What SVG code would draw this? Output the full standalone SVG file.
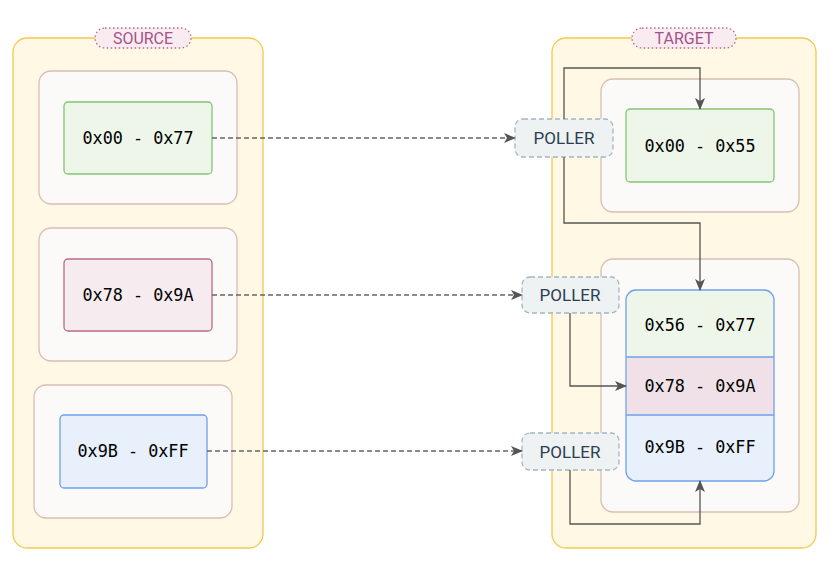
<svg xmlns="http://www.w3.org/2000/svg" width="838" height="580" viewBox="0 0 838 580">
<style>
.cont{fill:#fff8e5;stroke:#f2c94c;stroke-width:1.3}
.pill{fill:#f8ecf1;stroke:#c0608a;stroke-width:1.3;stroke-dasharray:1.5 2.5}
.pt{font-family:Roboto,"Liberation Sans",sans-serif;font-size:16px;fill:#a5528a;text-anchor:middle;dominant-baseline:central}
.inner{fill:#fbfaf8;stroke:#d8bfb2;stroke-width:1.3}
.g{fill:#eef6ea;stroke:#84c474;stroke-width:1.3}
.p{fill:#f6ecf0;stroke:#b86b8c;stroke-width:1.3}
.b{fill:#e8f0fb;stroke:#6ea1ea;stroke-width:1.3}
.r2{fill:#efe1e7}
.mono{font-family:"DejaVu Sans Mono","Liberation Mono",monospace;font-size:16.8px;fill:#000;text-anchor:middle;dominant-baseline:central}
.poll{fill:#eef2f3;stroke:#a3b6c4;stroke-width:1.3;stroke-dasharray:5 3}
.plt{font-family:Roboto,"Liberation Sans",sans-serif;font-size:17px;fill:#2c3e50;text-anchor:middle;dominant-baseline:central}
.dash{fill:none;stroke:#666;stroke-width:1.3;stroke-dasharray:5 3}
.solid{fill:none;stroke:#555;stroke-width:1.3}
</style>
<defs>
<marker id="arr" viewBox="0 0 12 10" refX="11" refY="5" markerWidth="12" markerHeight="10" markerUnits="userSpaceOnUse" orient="auto">
<path d="M0,0 L12,5 L0,10 L3,5 Z" fill="#555"/>
</marker>
</defs>
<g id="source">
<rect class="cont" x="13" y="38" width="250" height="510" rx="14"/>
<rect class="pill" x="95" y="28" width="96" height="20" rx="10"/>
<text class="pt" x="143" y="38">SOURCE</text>
</g>
<g id="target">
<rect class="cont" x="552" y="38" width="264" height="510" rx="14"/>
<rect class="pill" x="632" y="28" width="104" height="20" rx="10"/>
<text class="pt" x="684" y="38">TARGET</text>
</g>
<g id="src-box-1"><rect class="inner" x="39" y="71" width="198" height="133" rx="12"/></g>
<g id="src-box-2"><rect class="inner" x="39" y="228" width="198" height="133" rx="12"/></g>
<g id="src-box-3"><rect class="inner" x="34" y="385" width="198" height="133" rx="12"/></g>
<g id="tgt-box-1"><rect class="inner" x="601" y="79" width="198" height="133" rx="12"/></g>
<g id="tgt-box-2"><rect class="inner" x="601" y="259" width="198" height="253" rx="12"/></g>
<g id="src-00-77"><rect class="g" x="64" y="102" width="148" height="72" rx="4"/><text class="mono" x="138" y="138">0x00 - 0x77</text></g>
<g id="src-78-9A"><rect class="p" x="64" y="259" width="148" height="72" rx="4"/><text class="mono" x="138" y="295">0x78 - 0x9A</text></g>
<g id="src-9B-FF"><rect class="b" x="60" y="415" width="147" height="73" rx="4"/><text class="mono" x="133" y="451">0x9B - 0xFF</text></g>
<g id="tgt-00-55"><rect class="g" x="626" y="109" width="148" height="73" rx="4"/><text class="mono" x="700" y="146">0x00 - 0x55</text></g>
<g id="tgt-stack">
<clipPath id="sc"><rect x="626" y="290" width="148" height="191" rx="10"/></clipPath>
<g clip-path="url(#sc)">
<rect x="626" y="290" width="148" height="67" fill="#eef6ea"/>
<rect class="r2" x="626" y="357" width="148" height="58"/>
<rect x="626" y="415" width="148" height="66" fill="#e8f0fb"/>
</g>
<line x1="626" y1="357" x2="774" y2="357" stroke="#6ea1ea" stroke-width="1.3"/>
<line x1="626" y1="415" x2="774" y2="415" stroke="#6ea1ea" stroke-width="1.3"/>
<rect x="626" y="290" width="148" height="191" rx="10" fill="none" stroke="#6ea1ea" stroke-width="1.3"/>
<text class="mono" x="700" y="325">0x56 - 0x77</text>
<text class="mono" x="700" y="386">0x78 - 0x9A</text>
<text class="mono" x="700" y="447">0x9B - 0xFF</text>
</g>
<g id="poller-1"><rect class="poll" x="515" y="119" width="98" height="38" rx="8"/><text class="plt" x="564" y="138">POLLER</text></g>
<g id="poller-2"><rect class="poll" x="522" y="277" width="97" height="36" rx="8"/><text class="plt" x="570" y="295">POLLER</text></g>
<g id="poller-3"><rect class="poll" x="522" y="433" width="97" height="37" rx="8"/><text class="plt" x="570" y="452">POLLER</text></g>
<g id="connectors">
<path class="dash" d="M212,138 L515,138" marker-end="url(#arr)"/>
<path class="dash" d="M212,295 L522,295" marker-end="url(#arr)"/>
<path class="dash" d="M207,451 L522,451" marker-end="url(#arr)"/>
<path class="solid" d="M564,119 L564,68 L700,68 L700,109" marker-end="url(#arr)"/>
<path class="solid" d="M564,157 L564,223 L700,223 L700,290" marker-end="url(#arr)"/>
<path class="solid" d="M570,313 L570,386 L626,386" marker-end="url(#arr)"/>
<path class="solid" d="M570,470 L570,524 L700,524 L700,481" marker-end="url(#arr)"/>
</g>
</svg>
